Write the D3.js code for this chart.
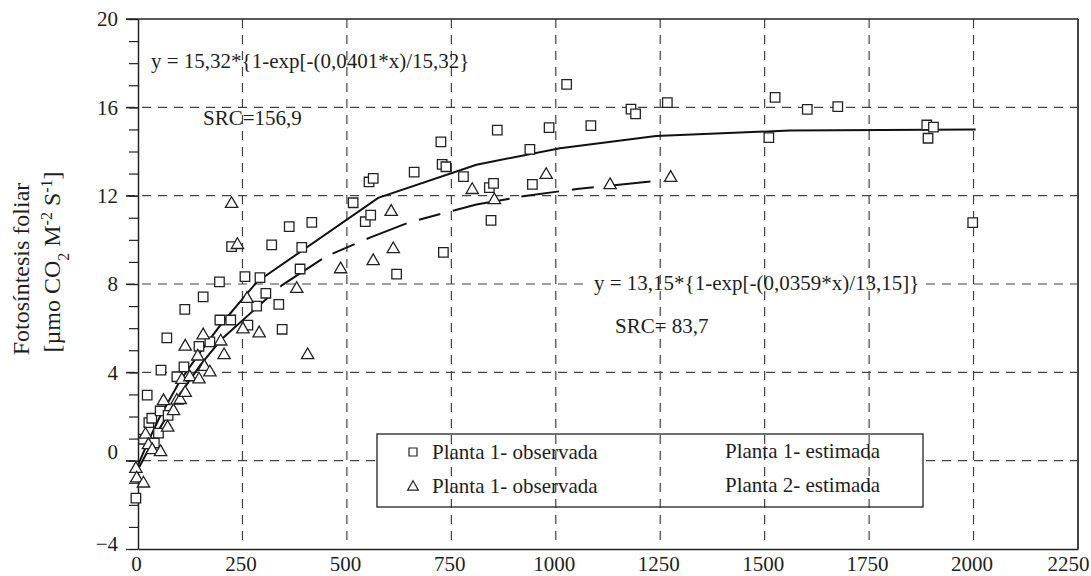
<!DOCTYPE html>
<html>
<head>
<meta charset="utf-8">
<script src="https://cdn.jsdelivr.net/npm/d3@7"></script>
<style>
body { margin: 0; background: #fff; }
svg text { font-family: "Liberation Serif", "Times New Roman", serif; fill: #1e1e1e; }
</style>
</head>
<body>
<div id="chart"></div>
<script>
// Axis ticks
const xTicks = [0, 250, 500, 750, 1000, 1250, 1500, 1750, 2000, 2250];
const yTicks = [-4, 0, 4, 8, 12, 16, 20];
const xGrid = [250, 500, 750, 1000, 1250, 1500, 1750, 2000];
const yGrid = [0, 4, 8, 12, 16];

// Planta 1 observada (squares) [x, y]
const planta1Obs = [
    [-5, -1.7], [13, 0.97], [22, 2.97], [26, 1.72], [33, 1.92], [39, 0.8], [49, 1.25],
    [53, 2.25], [55, 4.1], [69, 5.56], [72, 2.05], [93, 3.8], [110, 4.25], [112, 6.85],
    [146, 5.18], [156, 7.42], [172, 5.38], [195, 8.1], [196, 6.37], [222, 6.37], [224, 9.69],
    [256, 8.33], [263, 6.14], [284, 7.0], [292, 8.29], [306, 7.58], [320, 9.77], [337, 7.08],
    [345, 5.95], [362, 10.6], [388, 8.68], [392, 9.66], [416, 10.79], [515, 11.68], [544, 10.82],
    [553, 12.62], [557, 11.12], [563, 12.78], [619, 8.45], [661, 13.07], [725, 14.44], [728, 13.42],
    [731, 9.43], [737, 13.31], [779, 12.86], [841, 12.36], [845, 10.88], [851, 12.56], [860, 14.97],
    [938, 14.1], [944, 12.51], [984, 15.08], [1026, 17.04], [1084, 15.17], [1180, 15.92],
    [1191, 15.7], [1267, 16.21], [1510, 14.63], [1525, 16.45], [1602, 15.91], [1675, 16.03],
    [1888, 15.2], [1891, 14.6], [1904, 15.1], [1998, 10.78]
];

// Planta 2 observada (triangles) [x, y]
const planta2Obs = [
    [-5, -0.37], [-3, -0.8], [13, -1.03], [18, 1.18], [25, 0.71], [34, 0.48], [54, 0.39],
    [61, 2.7], [71, 1.5], [85, 2.25], [93, 2.72], [101, 2.75], [105, 3.66], [113, 3.07],
    [113, 5.17], [124, 3.78], [143, 4.72], [146, 3.68], [156, 5.68], [159, 4.25], [172, 4.0],
    [198, 5.4], [206, 4.78], [224, 11.63], [238, 9.77], [251, 5.95], [261, 7.33], [290, 5.77],
    [380, 7.78], [406, 4.78], [485, 8.67], [563, 9.04], [606, 11.27], [611, 9.58], [800, 12.26],
    [853, 11.8], [977, 12.94], [1130, 12.48], [1275, 12.81]
];

// Estimated curves, vertices
const planta1Est = [
    [0, -0.2], [25, 0.9], [50, 1.9], [100, 3.6], [150, 4.95], [200, 6.2], [285, 8.1],
    [575, 11.9], [810, 13.4], [1010, 14.15], [1240, 14.7], [1560, 14.95], [2005, 15.0]
];
const planta2Est = [
    [0, -0.4], [50, 1.4], [100, 3.0], [150, 4.35], [200, 5.5], [300, 7.2], [345, 7.95],
    [450, 9.25], [555, 10.1], [650, 10.8], [730, 11.2], [810, 11.6], [930, 12.0],
    [1050, 12.3], [1257, 12.7]
];

const legendLeft = ['Planta 1- observada', 'Planta 1- observada'];
const legendRight = ['Planta 1- estimada', 'Planta 2- estimada'];

const margin = { top: 19, right: 13, bottom: 27, left: 138 };
const width = 1091 - margin.left - margin.right;
const height = 576 - margin.top - margin.bottom;
const ink = '#222';
const gridColor = '#444';
const fontSize = '21px';

const svg = d3.select('#chart')
    .append('svg')
    .attr('width', width + margin.left + margin.right)
    .attr('height', height + margin.top + margin.bottom)
    .append('g')
    .attr('transform', 'translate(' + margin.left + ',' + margin.top + ')');

const x = d3.scaleLinear().domain([0, 2250]).range([0, width]);
const y = d3.scaleLinear().domain([-4, 20]).range([height, 0]);

// horizontal grid (drawn first so white boxes can hide it)
svg.append('g')
    .selectAll('line')
    .data(yGrid)
    .enter()
    .append('line')
    .attr('x1', -12)
    .attr('x2', width)
    .attr('y1', d => y(d))
    .attr('y2', d => y(d))
    .attr('stroke', gridColor)
    .attr('stroke-width', 1.2)
    .attr('stroke-dasharray', '9,7');

const bgLayer = svg.append('g');

// legend box fill
const legend = { x: 239, y: 415, w: 546, h: 73 };
bgLayer.append('rect')
    .attr('x', legend.x).attr('y', legend.y)
    .attr('width', legend.w).attr('height', legend.h)
    .attr('fill', '#fff');

// vertical grid
svg.append('g')
    .selectAll('line')
    .data(xGrid)
    .enter()
    .append('line')
    .attr('x1', d => x(d))
    .attr('x2', d => x(d))
    .attr('y1', 0)
    .attr('y2', height - 9)
    .attr('stroke', gridColor)
    .attr('stroke-width', 1.2)
    .attr('stroke-dasharray', '9,7');

// axes
const yAxis = d3.axisLeft(y).tickValues(yTicks).tickSize(12).tickSizeOuter(0).tickPadding(8);
const yMinor = d3.axisLeft(y).tickValues(d3.range(-4, 21, 1)).tickSize(9).tickSizeOuter(0).tickFormat('');
svg.append('g').call(yMinor)
    .call(g => g.select('.domain').remove())
    .selectAll('line').attr('stroke', ink).attr('stroke-width', 1.2);
svg.append('g').call(yAxis)
    .attr('font-family', null)
    .call(g => g.select('.domain').attr('stroke', ink).attr('stroke-width', 1.5))
    .call(g => g.selectAll('line').attr('stroke', ink).attr('stroke-width', 1.2))
    .selectAll('text')
    .style('font-size', fontSize)
    .attr('fill', ink)
    .attr('y', d => d === 0 ? -9 : (d === -4 ? -5 : 0)); // label offsets as printed

svg.append('g')
    .attr('transform', 'translate(0,' + height + ')')
    .call(d3.axisBottom(x).tickValues(xTicks).tickSize(0).tickSizeOuter(0).tickPadding(7)
        .tickFormat(d3.format('d')))
    .attr('font-family', null)
    .call(g => g.select('.domain').attr('stroke', ink).attr('stroke-width', 1.5))
    .selectAll('text')
    .style('font-size', fontSize)
    .attr('fill', ink)
    .attr('dx', d => d === 2250 ? -10 : -2);

// frame top/right
svg.append('line')
    .attr('x1', -12).attr('x2', width).attr('y1', 0).attr('y2', 0)
    .attr('stroke', ink).attr('stroke-width', 1.3);
svg.append('line')
    .attr('x1', width).attr('x2', width).attr('y1', 0).attr('y2', height)
    .attr('stroke', '#444').attr('stroke-width', 2);

// fitted curves
const line = d3.line().x(d => x(d[0])).y(d => y(d[1]));
svg.append('path')
    .datum(planta1Est)
    .attr('d', line)
    .attr('fill', 'none')
    .attr('stroke', '#111')
    .attr('stroke-width', 2);
svg.append('path')
    .datum(planta2Est)
    .attr('d', line)
    .attr('fill', 'none')
    .attr('stroke', '#111')
    .attr('stroke-width', 2)
    .attr('stroke-dasharray', '218,16,50,12,24,13,43,13,22,13,58,12,38,13,22,13,44,13,22,13,44,13,22,13,44,13,22,13');

// observed points
const square = d3.symbol().type(d3.symbolSquare).size(90);
const triangle = d3.symbol().type(d3.symbolTriangle).size(66);
svg.append('g')
    .selectAll('path')
    .data(planta1Obs)
    .enter()
    .append('path')
    .attr('d', square)
    .attr('transform', d => 'translate(' + x(d[0]) + ',' + y(d[1]) + ')')
    .attr('fill', '#fff')
    .attr('stroke', ink)
    .attr('stroke-width', 1.3);
svg.append('g')
    .selectAll('path')
    .data(planta2Obs)
    .enter()
    .append('path')
    .attr('d', triangle)
    .attr('transform', d => 'translate(' + x(d[0]) + ',' + y(d[1]) + ')')
    .attr('fill', '#fff')
    .attr('stroke', ink)
    .attr('stroke-width', 1.3);

// annotations
function note(tx, ty, str, withBg) {
    const t = svg.append('text')
        .attr('x', tx)
        .attr('y', ty)
        .style('font-size', fontSize)
        .text(str);
    if (withBg) {
        const b = t.node().getBBox();
        bgLayer.append('rect')
            .attr('x', b.x - 4).attr('y', b.y)
            .attr('width', b.width + 8).attr('height', b.height)
            .attr('fill', '#fff');
    }
    return t;
}
note(13, 49, 'y = 15,32*{1-exp[-(0,0401*x)/15,32}', false);
note(65, 106, 'SRC=156,9', false);
note(456, 271, 'y = 13,15*{1-exp[-(0,0359*x)/13,15]}', true);
note(477, 314, 'SRC= 83,7', false);

// legend
svg.append('rect')
    .attr('x', legend.x).attr('y', legend.y)
    .attr('width', legend.w).attr('height', legend.h)
    .attr('fill', 'none')
    .attr('stroke', ink)
    .attr('stroke-width', 1.3);
const rowY = [legend.y + 18, legend.y + 52];
svg.append('path')
    .attr('d', d3.symbol().type(d3.symbolSquare).size(64))
    .attr('transform', 'translate(' + (legend.x + 36) + ',' + rowY[0] + ')')
    .attr('fill', '#fff').attr('stroke', ink).attr('stroke-width', 1.2);
svg.append('path')
    .attr('d', d3.symbol().type(d3.symbolTriangle).size(50))
    .attr('transform', 'translate(' + (legend.x + 36) + ',' + (rowY[1] + 1) + ')')
    .attr('fill', '#fff').attr('stroke', ink).attr('stroke-width', 1.2);
svg.append('g')
    .selectAll('text')
    .data(legendLeft)
    .enter()
    .append('text')
    .attr('x', legend.x + 55)
    .attr('y', (d, i) => rowY[i] + 7)
    .style('font-size', fontSize)
    .text(d => d);
svg.append('g')
    .selectAll('text')
    .data(legendRight)
    .enter()
    .append('text')
    .attr('x', legend.x + 348)
    .attr('y', (d, i) => rowY[i] + 6)
    .style('font-size', fontSize)
    .text(d => d);

// y axis title, two lines
const title = d3.select('svg').append('g')
    .attr('transform', 'rotate(-90)');
title.append('text')
    .attr('x', -269).attr('y', 29)
    .attr('text-anchor', 'middle')
    .style('font-size', '24px')
    .text('Fotosíntesis foliar');
const t2 = title.append('text')
    .attr('x', -262).attr('y', 60)
    .attr('text-anchor', 'middle')
    .style('font-size', '24px');
t2.append('tspan').text('[µmo CO');
t2.append('tspan').attr('baseline-shift', 'sub').style('font-size', '16px').text('2');
t2.append('tspan').text(' M');
t2.append('tspan').attr('baseline-shift', 'super').style('font-size', '16px').text('-2');
t2.append('tspan').text(' S');
t2.append('tspan').attr('baseline-shift', 'super').style('font-size', '16px').text('-1');
t2.append('tspan').text(']');
</script>
</body>
</html>
